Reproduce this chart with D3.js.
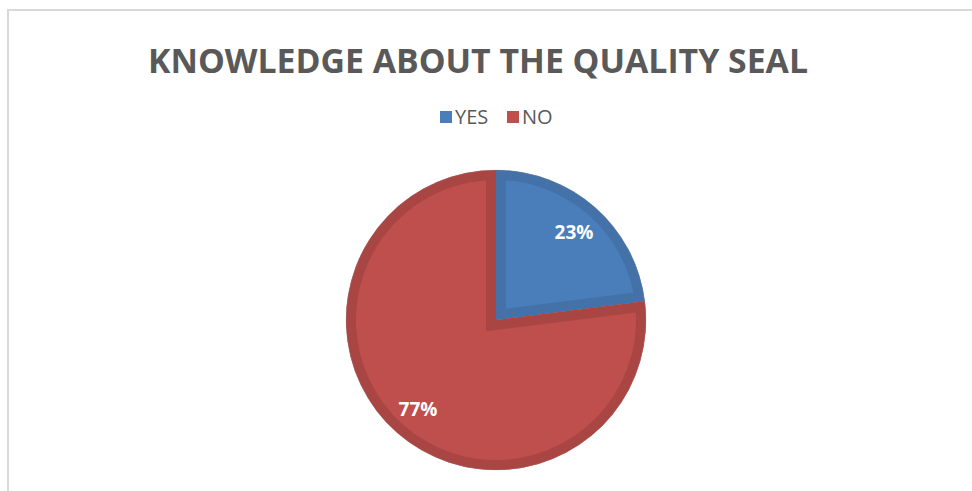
<!DOCTYPE html>
<html>
<head>
<meta charset="utf-8">
<script src="https://cdn.jsdelivr.net/npm/d3@7/dist/d3.min.js"></script>
<style>
  html, body { margin: 0; padding: 0; background: #fff; }
  svg { display: block; }
</style>
</head>
<body>
<svg id="chart" width="972" height="491"></svg>
<script>
// Survey answers: share of respondents who know the quality seal
const categories = ["YES", "NO"];
const values = [23, 77];
const titleText = "KNOWLEDGE ABOUT THE QUALITY SEAL";

const fills = ["#4a7ebb", "#be4f4c"];
const edges = ["#4471a7", "#a94644"];

const width = 972, height = 491;
const svg = d3.select("#chart");

// chart area frame
svg.append("rect")
  .attr("x", 8).attr("y", 10)
  .attr("width", width + 20).attr("height", height + 20)
  .attr("fill", "#fff")
  .attr("stroke", "#d9d9d9")
  .attr("stroke-width", 2);

// title
svg.append("text")
  .attr("x", 478).attr("y", 73)
  .attr("text-anchor", "middle")
  .attr("font-family", "'Open Sans', sans-serif")
  .attr("font-weight", "bold")
  .attr("font-size", 34)
  .attr("fill", "#595959")
  .attr("textLength", 660)
  .attr("lengthAdjust", "spacingAndGlyphs")
  .text(titleText);

// legend
const legend = svg.append("g").attr("transform", "translate(440,110)");
const legendOffsets = [0, 67];
categories.forEach((c, i) => {
  const g = legend.append("g").attr("transform", `translate(${legendOffsets[i]},0)`);
  g.append("rect").attr("x", 0).attr("y", 1).attr("width", 12).attr("height", 12)
    .attr("fill", fills[i]);
  g.append("text").attr("x", 15).attr("y", 14)
    .attr("font-family", "'Open Sans', sans-serif")
    .attr("font-size", 20)
    .attr("fill", "#595959")
    .text(c);
});

// pie
const cx = 496, cy = 320, r = 150, band = 10;
const pie = d3.pie().sort(null).value(d => d)(values);
const arc = d3.arc().innerRadius(0).outerRadius(r);
const labelArc = d3.arc().innerRadius(118).outerRadius(118);

const gPie = svg.append("g").attr("transform", `translate(${cx},${cy})`);
const defs = svg.append("defs");

pie.forEach((p, i) => {
  const id = "slice-clip-" + i;
  defs.append("clipPath").attr("id", id)
    .append("path").attr("d", arc(p));
  gPie.append("path")
    .attr("d", arc(p))
    .attr("fill", fills[i]);
  // darker inner rim along the slice edges
  gPie.append("path")
    .attr("d", arc(p))
    .attr("fill", "none")
    .attr("stroke", edges[i])
    .attr("stroke-width", band * 2)
    .attr("stroke-linejoin", "miter")
    .attr("clip-path", `url(#${id})`);
});

// soft outline around the disc
gPie.append("circle").attr("r", r).attr("fill", "none")
  .attr("stroke", "#9a9a9a").attr("stroke-opacity", 0.35).attr("stroke-width", 0.8);

// value labels
pie.forEach((p, i) => {
  const [lx, ly] = labelArc.centroid(p);
  gPie.append("text")
    .attr("x", lx).attr("y", ly)
    .attr("text-anchor", "middle")
    .attr("dominant-baseline", "central")
    .attr("font-family", "'Open Sans', sans-serif")
    .attr("font-weight", "bold")
    .attr("font-size", 19)
    .attr("fill", "#fff")
    .text(values[i] + "%");
});
</script>
</body>
</html>
